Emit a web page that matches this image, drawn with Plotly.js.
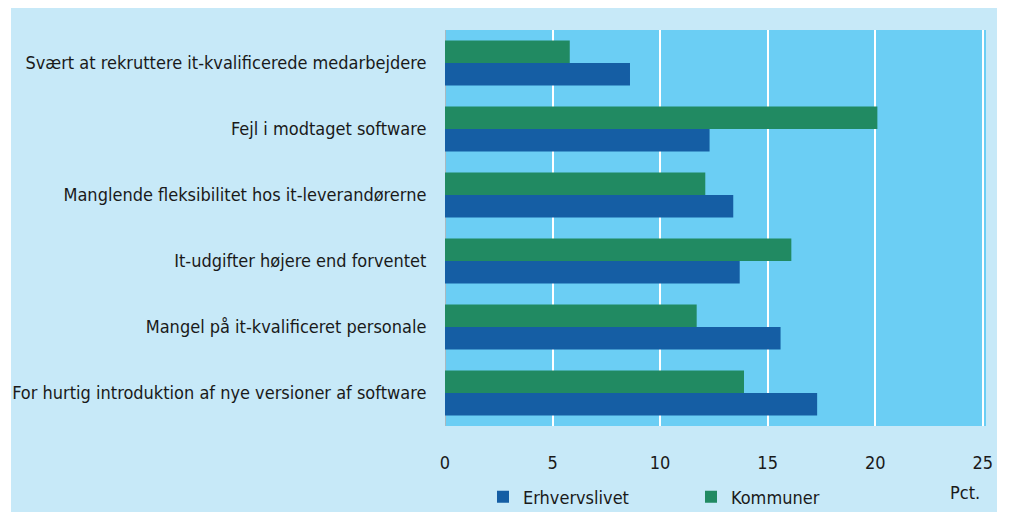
<!DOCTYPE html>
<html>
<head>
<meta charset="utf-8">
<script src="https://cdn.plot.ly/plotly-3.0.1.min.js"></script>
<style>
  html, body { margin: 0; padding: 0; background: #ffffff; }
  #chart { position: absolute; left: 11px; top: 8px; width: 986px; height: 504px; }
</style>
</head>
<body>
<div id="chart"></div>
<script>
// Categories, top to bottom as shown
var categories = [
  "Svært at rekruttere it-kvalificerede medarbejdere",
  "Fejl i modtaget software",
  "Manglende fleksibilitet hos it-leverandørerne",
  "It-udgifter højere end forventet",
  "Mangel på it-kvalificeret personale",
  "For hurtig introduktion af nye versioner af software"
];
var erhvervslivet = [8.6, 12.3, 13.4, 13.7, 15.6, 17.3];
var kommuner      = [5.8, 20.1, 12.1, 16.1, 11.7, 13.9];
var xTicks = [0, 5, 10, 15, 20, 25];
var seriesNames = ["Erhvervslivet", "Kommuner"];
var unitLabel = "Pct.";

var FONT = '"DejaVu Sans Condensed", "Liberation Sans Narrow", sans-serif';

var traces = [
  { type: 'bar', orientation: 'h', name: seriesNames[0], y: categories, x: erhvervslivet,
    marker: { color: '#155ea4', line: { width: 0 } }, hoverinfo: 'x+name' },
  { type: 'bar', orientation: 'h', name: seriesNames[1], y: categories, x: kommuner,
    marker: { color: '#218a62', line: { width: 0 } }, hoverinfo: 'x+name' }
];

var layout = {
  width: 986, height: 504,
  margin: { l: 434, r: 11, t: 22, b: 86, pad: 0, autoexpand: false },
  paper_bgcolor: '#c7e9f8',
  plot_bgcolor: '#6bcef4',
  font: { family: FONT, size: 18, color: '#1a1a1a' },
  barmode: 'group',
  bargap: 0.32,
  bargroupgap: 0,
  showlegend: true,
  legend: {
    orientation: 'h', xref: 'container', yref: 'container',
    x: 0.4787, xanchor: 'left', y: 0.0298, yanchor: 'middle',
    bgcolor: 'rgba(0,0,0,0)', font: { family: FONT, size: 18, color: '#1a1a1a' },
    entrywidth: 163, entrywidthmode: 'pixels', itemwidth: 30, traceorder: 'normal'
  },
  xaxis: {
    range: [0, 25.15], tickvals: xTicks, ticktext: xTicks.map(String),
    showgrid: true, gridcolor: '#ffffff', gridwidth: 2,
    zeroline: true, zerolinecolor: '#a9b9c0', zerolinewidth: 1,
    showline: false, ticks: 'outside', ticklen: 20, tickcolor: 'rgba(0,0,0,0)',
    tickfont: { family: FONT, size: 18, color: '#1a1a1a' }, fixedrange: true
  },
  yaxis: {
    type: 'category', categoryorder: 'array', categoryarray: categories.slice().reverse(),
    showgrid: false, zeroline: false, showline: false,
    ticks: 'outside', ticklen: 14, tickcolor: 'rgba(0,0,0,0)',
    tickfont: { family: FONT, size: 18, color: '#1a1a1a' }, fixedrange: true
  },
  annotations: [{
    text: unitLabel, xref: 'paper', yref: 'paper', x: 0.993, y: -0.169,
    xanchor: 'right', yanchor: 'middle', showarrow: false,
    font: { family: FONT, size: 18, color: '#1a1a1a' }
  }]
};

Plotly.newPlot('chart', traces, layout, { displayModeBar: false, staticPlot: true });
</script>
</body>
</html>
